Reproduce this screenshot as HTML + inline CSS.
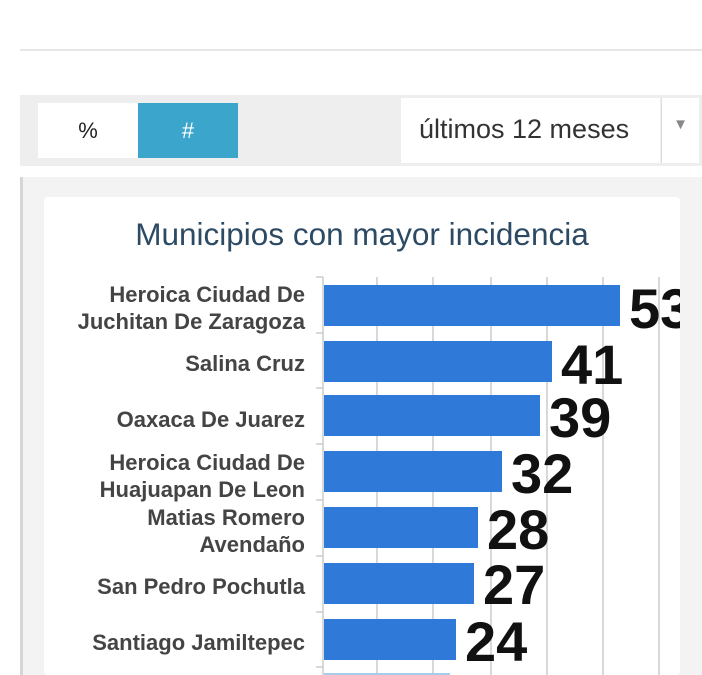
<!DOCTYPE html>
<html><head><meta charset="utf-8"><style>
*{margin:0;padding:0;box-sizing:border-box}
body{width:702px;height:675px;background:#fff;position:relative;overflow:hidden;font-family:"Liberation Sans",Arial,sans-serif}
.abs{position:absolute}
</style></head><body>
<div class="abs" style="left:20px;top:49px;width:682px;height:2px;background:#e6e6e6"></div>
<div class="abs" style="left:20px;top:95px;width:682px;height:71px;background:#eeeeee"></div>
<div class="abs" style="left:38px;top:103px;width:100px;height:55px;background:#fff;font-size:22px;color:#222;text-align:center;line-height:55px">%</div>
<div class="abs" style="left:138px;top:103px;width:100px;height:55px;background:#3ba5cc;font-size:22px;color:#fff;text-align:center;line-height:55px">#</div>
<div class="abs" style="left:401px;top:98px;width:259px;height:65px;background:#fff;font-size:27px;color:#333;line-height:63px;padding-left:18px;white-space:nowrap">últimos 12 meses</div>
<div class="abs" style="left:661px;top:98px;width:38px;height:65px;background:#fff;border-left:1px solid #ddd;color:#888;font-size:15px;text-align:center;line-height:54px">▼</div>
<div class="abs" style="left:20px;top:177px;width:682px;height:498px;background:#f3f3f3;border-left:3px solid #d6d6d6"></div>
<div class="abs" style="left:44px;top:197px;width:636px;height:478px;background:#fff;border-radius:4px;overflow:hidden">
<div class="abs" style="left:0;top:19px;width:636px;text-align:center;font-size:31.5px;color:#2c4a63;white-space:nowrap">Municipios con mayor incidencia</div>
<svg class="abs" style="left:-44px;top:-197px" width="702" height="675">
<g stroke="#ccc" stroke-width="1.5">
<line x1="377" y1="277" x2="377" y2="675"/><line x1="433" y1="277" x2="433" y2="675"/><line x1="491" y1="277" x2="491" y2="675"/><line x1="547" y1="277" x2="547" y2="675"/><line x1="603" y1="277" x2="603" y2="675"/><line x1="659" y1="277" x2="659" y2="675"/>
<line x1="323" y1="277" x2="323" y2="675"/>
<line x1="316" y1="277" x2="323" y2="277"/><line x1="316" y1="333" x2="323" y2="333"/><line x1="316" y1="388" x2="323" y2="388"/><line x1="316" y1="444" x2="323" y2="444"/><line x1="316" y1="500" x2="323" y2="500"/><line x1="316" y1="556" x2="323" y2="556"/><line x1="316" y1="612" x2="323" y2="612"/><line x1="316" y1="667" x2="323" y2="667"/>
</g>
<g fill="#2f7ad8">
<rect x="324" y="285" width="296" height="41"/><rect x="324" y="341" width="228" height="41"/><rect x="324" y="395" width="216" height="41"/><rect x="324" y="451" width="178" height="41"/><rect x="324" y="507" width="154" height="41"/><rect x="324" y="563" width="150" height="41"/><rect x="324" y="619" width="132" height="41"/><rect x="324" y="673" width="126" height="10" fill="#a9cde8"/>
</g>
<g font-family="Liberation Sans,Arial,sans-serif" font-weight="bold" font-size="22" fill="#444" text-anchor="end">
<text x="305" y="302">Heroica Ciudad De</text><text x="305" y="329">Juchitan De Zaragoza</text>
<text x="305" y="371">Salina Cruz</text>
<text x="305" y="427">Oaxaca De Juarez</text>
<text x="305" y="470">Heroica Ciudad De</text><text x="305" y="497">Huajuapan De Leon</text>
<text x="305" y="525">Matias Romero</text><text x="305" y="552">Avendaño</text>
<text x="305" y="594">San Pedro Pochutla</text>
<text x="305" y="650">Santiago Jamiltepec</text>
</g>
<g font-family="Liberation Sans,Arial,sans-serif" font-weight="bold" font-size="56" fill="#111">
<text x="629" y="328">53</text><text x="561" y="384">41</text><text x="549" y="437">39</text><text x="511" y="493">32</text><text x="487" y="549">28</text><text x="483" y="604">27</text><text x="465" y="661">24</text>
</g>
</svg>
</div>
</body></html>
